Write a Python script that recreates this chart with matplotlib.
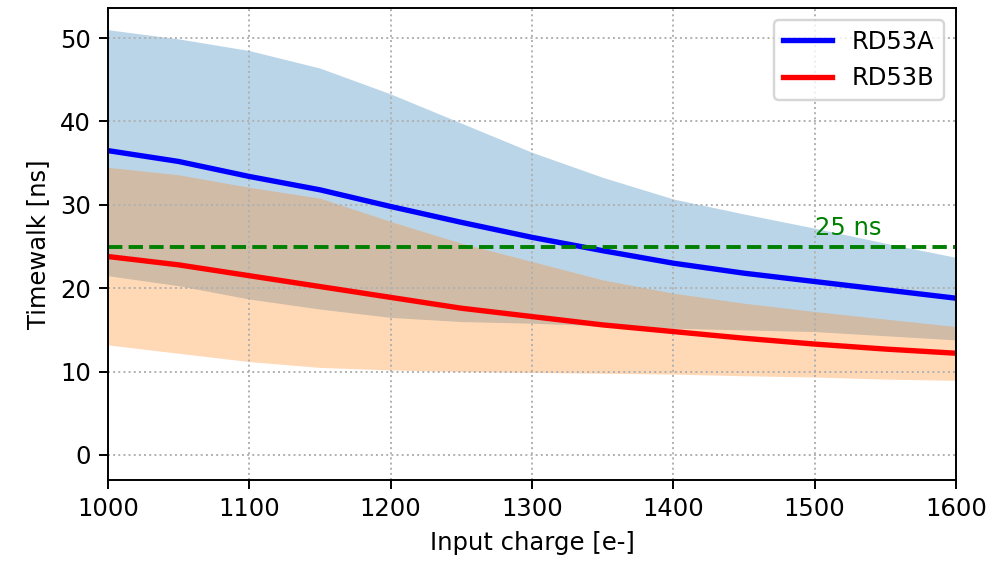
import numpy as np
import matplotlib
matplotlib.use('Agg')
import matplotlib.pyplot as plt

# input charge [e-]
charge = [1000, 1050, 1100, 1150, 1200, 1250, 1300, 1350, 1400, 1450, 1500, 1550, 1600]

# RD53A timewalk: mean and band
a_mean = [36.5, 35.2, 33.4, 31.8, 29.8, 27.9, 26.1, 24.5, 23.0, 21.8, 20.8, 19.8, 18.8]
a_high = [51.0, 49.9, 48.5, 46.4, 43.3, 39.8, 36.3, 33.3, 30.7, 28.9, 27.2, 25.4, 23.7]
a_low = [21.5, 20.3, 18.7, 17.5, 16.5, 16.0, 15.8, 15.5, 15.2, 15.0, 14.8, 14.3, 13.8]

# RD53B timewalk: mean and band
b_mean = [23.8, 22.8, 21.5, 20.2, 18.9, 17.6, 16.6, 15.6, 14.8, 14.0, 13.3, 12.7, 12.2]
b_high = [34.5, 33.6, 32.1, 30.8, 28.0, 25.4, 23.2, 21.0, 19.4, 18.2, 17.2, 16.3, 15.4]
b_low = [13.2, 12.2, 11.2, 10.5, 10.2, 10.0, 9.9, 9.8, 9.7, 9.5, 9.35, 9.1, 8.95]

limit = 25

fig = plt.figure(figsize=(999 / 175, 561 / 175), dpi=175)
ax = fig.add_axes([0.108, 0.1444, 0.849, 0.8413])

ax.fill_between(charge, a_low, a_high, color='C0', alpha=0.3, lw=0)
ax.fill_between(charge, b_low, b_high, color='C1', alpha=0.3, lw=0)
ax.plot(charge, a_mean, 'b', lw=2.2, label='RD53A')
ax.plot(charge, b_mean, 'r', lw=2.2, label='RD53B')
ax.axhline(limit, color='green', ls='--', lw=1.6)
ax.text(1500, limit + 0.8, '25 ns', color='green', va='bottom', ha='left')

ax.set_xlim(1000, 1600)
ax.set_ylim(-3, 53.6)
ax.set_yticks([0, 10, 20, 30, 40, 50])
ax.grid(ls=':')
ax.set_xlabel('Input charge [e-]')
ax.set_ylabel('Timewalk [ns]')
ax.legend(loc='upper right')

fig.savefig('out.png', dpi=175)
